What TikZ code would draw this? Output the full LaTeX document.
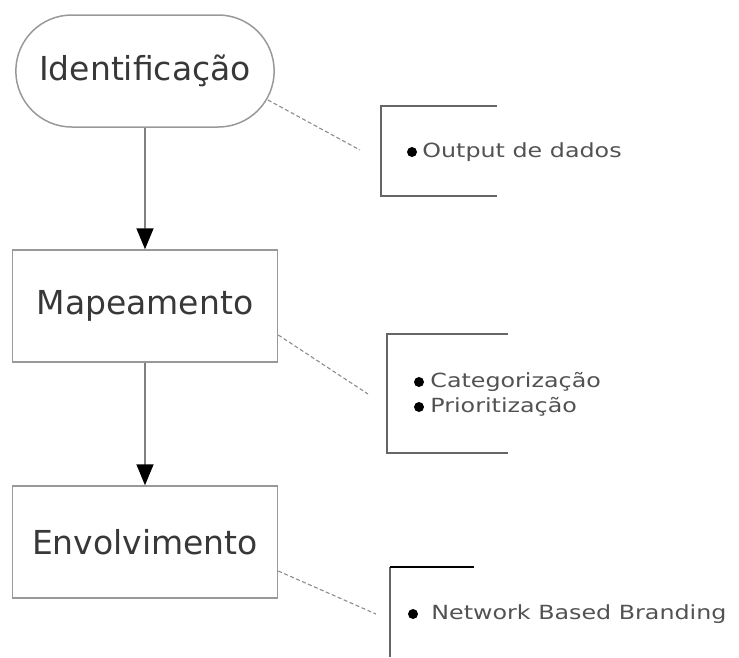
\documentclass[tikz,border=0pt]{standalone}
\usepackage{fontspec}
\setmainfont{DejaVu Sans}
\usepackage{graphicx}
\usetikzlibrary{arrows.meta}
\usetikzlibrary{positioning}
\usetikzlibrary{shapes.misc}
\newcommand{\wide}[1]{\scalebox{1.22}[1]{#1}}
\tikzset{stage/.style = {draw=gray!80, line width=1.5pt, minimum width=265pt,
                         minimum height=112pt, text=black!78,
                         font=\fontsize{33}{40}\selectfont},
         flow/.style = {draw=gray, line width=1.6pt,
                        -{Triangle[length=21pt,width=17pt,color=black]}},
         link/.style = {draw=gray!90, line width=1.1pt, dash pattern=on 4pt off 2.5pt},
         note/.style = {draw=black!60, line width=1.8pt},
         dot/.style = {circle, fill=black, inner sep=0pt, minimum size=10pt},
         item/.style = {text=black!68, inner sep=0pt, font=\fontsize{19.5}{25}\selectfont}}

\begin{document}
\begin{tikzpicture}[x=1pt,y=-1pt]
    \useasboundingbox (0,0) rectangle (739,657);

    \node[stage, rounded rectangle] (ident) at (145,71) {Identificação};
    \node[stage] (map) at (145,306) {Mapeamento};
    \node[stage] (env) at (145,542) {Envolvimento};

    \draw[flow] (ident) -- (map);
    \draw[flow] (map) -- (env);

    % brackets
    \draw[note] (497,106) -- (381,106) -- (381,196) -- (497,196);
    \draw[note] (508,334) -- (387,334) -- (387,453) -- (508,453);
    \draw[note] (390,657) -- (390,567);
    \draw[line width=1.8pt] (390,567) -- (474,567);

    \coordinate (end1) at (360,150);
    \coordinate (end2) at (368,394);
    \coordinate (end3) at (376,614);
    \draw[link] ([shift={(-7,29)}]ident.east) -- (end1);
    \draw[link] ([shift={(0,29)}]map.east) -- (end2);
    \draw[link] ([shift={(0,29)}]env.east) -- (end3);

    \node[dot] (dot1) at (412,152) {};
    \node[item, right=5pt of dot1] (out) {\wide{Output de dados}};
    \node[dot] (dot2) at (419,382) {};
    \node[item, right=6pt of dot2] (cat) {\wide{Categorização}};
    \node[dot] (dot3) at (419,407) {};
    \node[item, right=6pt of dot3] (pri) {\wide{Prioritização}};
    \node[dot] (dot4) at (413,614) {};
    \node[item, right=13pt of dot4] (net) {\wide{Network Based Branding}};
\end{tikzpicture}
\end{document}
